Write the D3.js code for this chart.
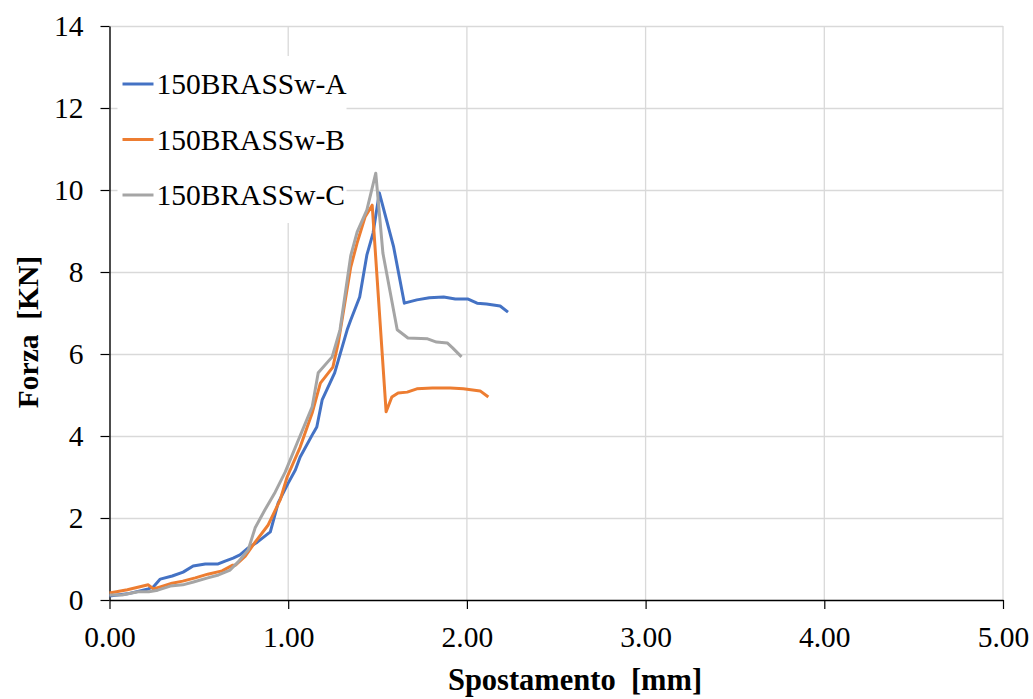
<!DOCTYPE html>
<html>
<head>
<meta charset="utf-8">
<script src="https://cdn.jsdelivr.net/npm/d3@7"></script>
<style>
  html, body { margin: 0; padding: 0; background: #fff; }
  svg { display: block; }
  text { font-family: "Liberation Serif", "Times New Roman", serif; fill: #000; }
  .title { white-space: pre; }
</style>
</head>
<body>
<svg id="chart" width="1033" height="699"></svg>
<script>
// Load–displacement curves (Spostamento [mm], Forza [KN])
const seriesNames = ["150BRASSw-A", "150BRASSw-B", "150BRASSw-C"];
const seriesColors = ["#4472C4", "#ED7D31", "#A5A5A5"];

const dispA = [0.00, 0.10, 0.217, 0.245, 0.284, 0.351, 0.412, 0.468, 0.536, 0.608, 0.647, 0.692, 0.73, 0.776, 0.827, 0.90, 0.944, 1.00, 1.04, 1.067, 1.14, 1.16, 1.19, 1.26, 1.33, 1.35, 1.40, 1.44, 1.475, 1.51, 1.59, 1.65, 1.72, 1.79, 1.87, 1.935, 2.007, 2.057, 2.11, 2.186, 2.23];
const forceA = [0.10, 0.15, 0.27, 0.32, 0.51, 0.585, 0.68, 0.83, 0.88, 0.88, 0.95, 1.02, 1.10, 1.27, 1.41, 1.66, 2.37, 2.85, 3.17, 3.49, 4.07, 4.22, 4.88, 5.54, 6.59, 6.83, 7.39, 8.41, 8.95, 9.93, 8.61, 7.24, 7.32, 7.37, 7.39, 7.34, 7.34, 7.24, 7.22, 7.17, 7.02];

const dispB = [0.00, 0.10, 0.217, 0.245, 0.284, 0.35, 0.41, 0.48, 0.55, 0.63, 0.69, 0.705, 0.76, 0.815, 0.888, 0.955, 0.994, 1.067, 1.134, 1.18, 1.25, 1.28, 1.35, 1.385, 1.43, 1.47, 1.548, 1.58, 1.615, 1.666, 1.72, 1.806, 1.907, 1.98, 2.074, 2.12];
const forceB = [0.17, 0.25, 0.37, 0.27, 0.32, 0.41, 0.46, 0.54, 0.63, 0.71, 0.85, 0.85, 1.07, 1.41, 1.83, 2.44, 3.00, 3.73, 4.56, 5.29, 5.68, 6.27, 8.12, 8.70, 9.34, 9.63, 4.59, 4.95, 5.05, 5.07, 5.15, 5.17, 5.17, 5.15, 5.10, 4.95];

const dispC = [0.00, 0.07, 0.16, 0.22, 0.27, 0.34, 0.41, 0.47, 0.55, 0.61, 0.675, 0.72, 0.776, 0.815, 0.87, 0.927, 0.983, 1.05, 1.134, 1.168, 1.246, 1.29, 1.35, 1.386, 1.44, 1.49, 1.53, 1.61, 1.67, 1.78, 1.83, 1.89, 1.92, 1.97];
const forceC = [0.12, 0.12, 0.20, 0.20, 0.24, 0.34, 0.37, 0.44, 0.54, 0.61, 0.73, 0.93, 1.22, 1.76, 2.20, 2.63, 3.12, 3.83, 4.71, 5.54, 5.93, 6.59, 8.40, 8.98, 9.51, 10.41, 8.46, 6.59, 6.39, 6.37, 6.29, 6.27, 6.15, 5.93];

const xTicks = [0, 1, 2, 3, 4, 5];
const yTicks = [0, 2, 4, 6, 8, 10, 12, 14];
const xTitle = "Spostamento  [mm]";
const yTitle = "Forza  [KN]";

const series = [
  { name: seriesNames[0], color: seriesColors[0], pts: d3.zip(dispA, forceA) },
  { name: seriesNames[1], color: seriesColors[1], pts: d3.zip(dispB, forceB) },
  { name: seriesNames[2], color: seriesColors[2], pts: d3.zip(dispC, forceC) }
];

const svg = d3.select("#chart");
const W = 1033, H = 699;
const margin = { top: 26, right: 30, bottom: 99, left: 109.5 };
const iw = W - margin.left - margin.right;
const ih = H - margin.top - margin.bottom;

const x = d3.scaleLinear().domain([0, 5]).range([0, iw]);
const y = d3.scaleLinear().domain([0, 14]).range([ih, 0]);

const g = svg.append("g").attr("transform", `translate(${margin.left},${margin.top})`);

// gridlines
g.append("g").selectAll("line.h").data(yTicks.filter(d => d > 0)).join("line")
  .attr("x1", 0).attr("x2", iw)
  .attr("y1", d => Math.round(y(d)) + 0.5).attr("y2", d => Math.round(y(d)) + 0.5)
  .attr("stroke", "#d9d9d9").attr("stroke-width", 1.3);
g.append("g").selectAll("line.v").data(xTicks.filter(d => d > 0)).join("line")
  .attr("x1", d => x(d)).attr("x2", d => x(d))
  .attr("y1", 0).attr("y2", ih)
  .attr("stroke", "#d9d9d9").attr("stroke-width", 1.3);

// axes
const xAxis = d3.axisBottom(x).tickValues(xTicks).tickFormat(d3.format(".2f")).tickSize(9).tickSizeOuter(0);
const yAxis = d3.axisLeft(y).tickValues(yTicks).tickFormat(d3.format("d")).tickSize(9).tickSizeOuter(0);

const gx = g.append("g").attr("transform", `translate(0,${ih})`).call(xAxis);
const gy = g.append("g").call(yAxis);
[gx, gy].forEach(a => {
  a.select(".domain").attr("stroke", "#000").attr("stroke-width", 1.4);
  a.selectAll(".tick line").attr("stroke", "#000").attr("stroke-width", 1.2);
  a.selectAll(".tick text").style("font-family", '"Liberation Serif", serif').style("font-size", "29.5px").attr("fill", "#000");
});
gx.selectAll(".tick text").attr("dy", "0").attr("y", 47);
gy.selectAll(".tick text").attr("x", -26).attr("dy", "0.33em");

// legend background (hides gridlines behind it)
g.append("rect").attr("x", 8).attr("y", 30).attr("width", 229).attr("height", 167).attr("fill", "#fff");

// curves
const line = d3.line().x(d => x(d[0])).y(d => y(d[1]));
g.append("g").selectAll("path").data(series).join("path")
  .attr("d", d => line(d.pts))
  .attr("fill", "none")
  .attr("stroke", d => d.color)
  .attr("stroke-width", 3)
  .attr("stroke-linejoin", "round");

// legend
const leg = g.append("g").selectAll("g").data(series).join("g")
  .attr("transform", (d, i) => `translate(13,${58 + i * 55.5})`);
leg.append("line").attr("x1", 0).attr("x2", 31).attr("y1", 0).attr("y2", 0)
  .attr("stroke", d => d.color).attr("stroke-width", 3);
leg.append("text").attr("x", 34).attr("y", 0).attr("dy", "0.35em")
  .style("font-size", "29.5px").text(d => d.name);

// axis titles
svg.append("text").attr("class", "title").attr("x", 575).attr("y", 690)
  .attr("text-anchor", "middle").style("font-size", "30.5px").style("font-weight", "bold")
  .text(xTitle);
svg.append("text").attr("class", "title").attr("transform", `translate(38,332) rotate(-90)`)
  .attr("text-anchor", "middle").style("font-size", "29.5px").style("font-weight", "bold")
  .text(yTitle);
</script>
</body>
</html>
